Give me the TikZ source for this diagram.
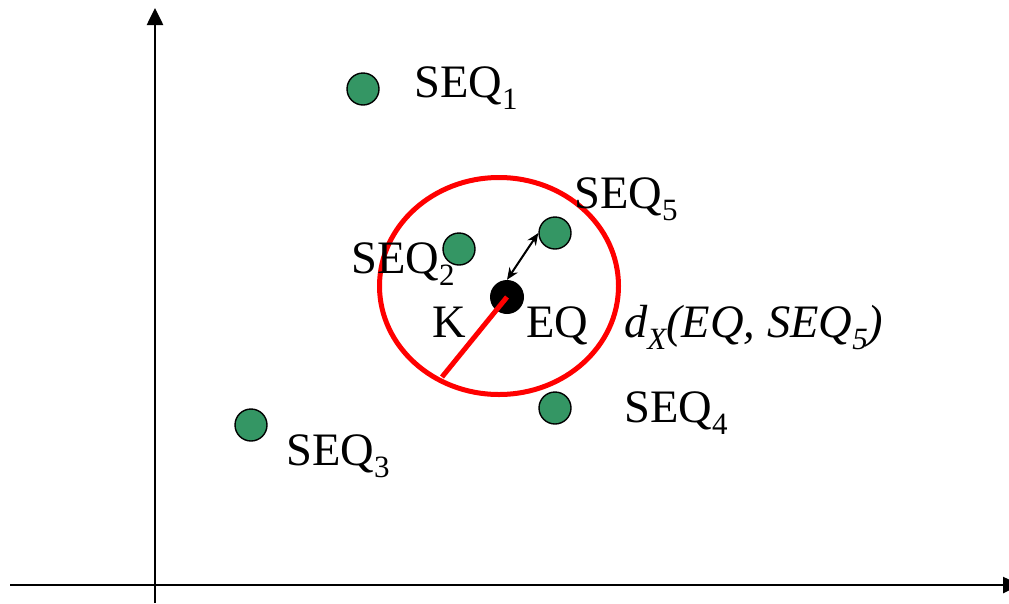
\documentclass[tikz,border=0pt]{standalone}
\usepackage{fontspec}
\setmainfont{Liberation Serif}
\usetikzlibrary{arrows.meta}
\definecolor{dotgreen}{RGB}{52,150,100}
\definecolor{ringred}{RGB}{255,0,0}
\newcommand\lowidx[1]{\raisebox{-0.26em}{\fontsize{31}{31}\selectfont #1}}
\tikzset{
  axis/.style={line width=2.6pt, -{Triangle[length=17pt,width=16pt]}},
  seqdot/.style={circle, draw=black, line width=1.4pt, fill=dotgreen, minimum size=32pt, inner sep=0pt},
  querydot/.style={circle, fill=black, minimum size=34pt, inner sep=0pt},
  lbl/.style={anchor=base west, inner sep=0pt, font=\fontsize{46.5}{56}\selectfont},
  ring/.style={draw=ringred, line width=5pt},
  gap/.style={line width=2pt, {Stealth[length=12pt,width=10pt]}-{Stealth[length=12pt,width=10pt]}},
}
\begin{document}
\begin{tikzpicture}[x=1pt,y=-1pt]
\useasboundingbox (0,0) rectangle (1009,603);
\clip (0,0) rectangle (1009,603);
% axes
\coordinate (xs) at (10,585);
\coordinate (xe) at (1020,585);
\coordinate (ys) at (155,603);
\coordinate (ye) at (155,8);
\draw[axis] (xs) -- (xe);
\draw[axis] (ys) -- (ye);
% query range
\draw[ring] (499,286) ellipse [x radius=119.5, y radius=108.5];
\node[querydot] (eq) at (507,297) {};
\coordinate (rim) at (442,377);
\draw[ring] (eq.center) -- (rim);
% data points
\node[seqdot] (s1) at (363,89) {};
\node[seqdot] (s2) at (459,249) {};
\node[seqdot] (s3) at (251,425) {};
\node[seqdot] (s4) at (555,408) {};
\node[seqdot] (s5) at (555,233) {};
\draw[gap] (eq.north) -- (s5.west);
% labels
\node[lbl] (t1) at (414,97) {SEQ\lowidx{1}};
\node[lbl] (t5) at (574,208) {SEQ\lowidx{5}};
\node[lbl] (t2) at (351,273) {SEQ\lowidx{2}};
\node[lbl] (tk) at (432,337) {K};
\node[lbl] (teq) at (526,337) {EQ};
\node[lbl] (td) at (624,337) {\itshape d\lowidx{X}(EQ, SEQ\lowidx{5})};
\node[lbl] (t4) at (624,422) {SEQ\lowidx{4}};
\node[lbl] (t3) at (286,465) {SEQ\lowidx{3}};
\end{tikzpicture}
\end{document}
